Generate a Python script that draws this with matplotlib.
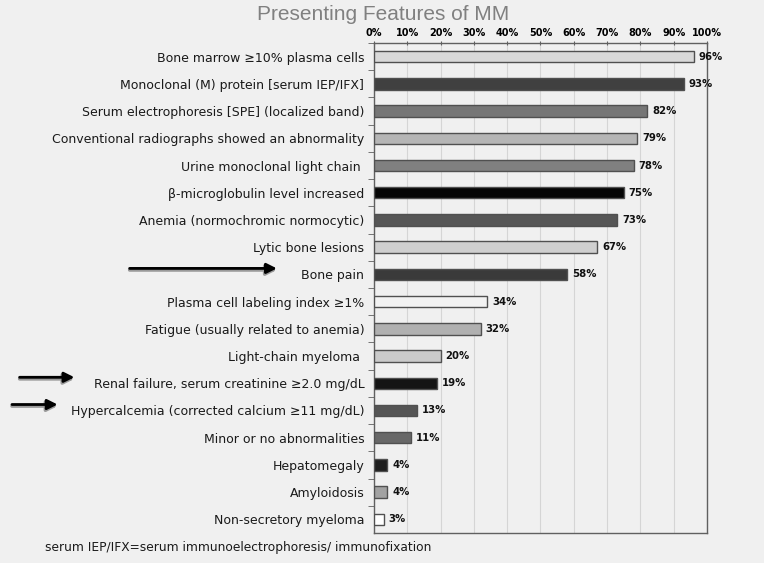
import matplotlib.pyplot as plt
from matplotlib.ticker import FixedLocator, FuncFormatter

# presenting features of multiple myeloma (% of patients)
features = ['Bone marrow ≥10% plasma cells',
            'Monoclonal (M) protein [serum IEP/IFX]',
            'Serum electrophoresis [SPE] (localized band)',
            'Conventional radiographs showed an abnormality',
            'Urine monoclonal light chain ',
            'β-microglobulin level increased',
            'Anemia (normochromic normocytic)',
            'Lytic bone lesions',
            'Bone pain',
            'Plasma cell labeling index ≥1%',
            'Fatigue (usually related to anemia)',
            'Light-chain myeloma ',
            'Renal failure, serum creatinine ≥2.0 mg/dL',
            'Hypercalcemia (corrected calcium ≥11 mg/dL)',
            'Minor or no abnormalities',
            'Hepatomegaly',
            'Amyloidosis',
            'Non-secretory myeloma']
percent = [96, 93, 82, 79, 78, 75, 73, 67, 58, 34, 32, 20, 19, 13, 11, 4, 4, 3]
bar_colors = ['#d9d9d9', '#404040', '#767676', '#b5b5b5', '#808080', '#050505',
              '#565656', '#cfcfcf', '#3a3a3a', '#f2f2f2', '#b0b0b0', '#cacaca',
              '#141414', '#555555', '#686868', '#1e1e1e', '#a2a2a2', '#ffffff']
arrowed = ['Bone pain', 'Renal failure, serum creatinine ≥2.0 mg/dL',
           'Hypercalcemia (corrected calcium ≥11 mg/dL)']
arrow_x = [(0.166, 0.366), (0.022, 0.101), (0.012, 0.079)]  # figure fraction

plt.rcParams['font.family'] = ['DejaVu Sans']
bg = '#f0f0f0'
fig = plt.figure(figsize=(7.64, 5.63), dpi=100, facecolor=bg)
ax = fig.add_axes([0.4895, 0.0533, 0.4359, 0.8703], facecolor=bg)

y = list(range(len(features)))
ax.barh(y, percent, height=0.42, color=bar_colors, edgecolor='#505050', linewidth=1, zorder=3)
for yi, p in zip(y, percent):
    ax.annotate(f'{p}%', (p, yi), xytext=(3.5, 0), textcoords='offset points',
                va='center', ha='left', fontsize=7.3, fontweight='bold', color='#111111')

ax.set_xlim(0, 100)
ax.set_ylim(len(features) - 0.5, -0.5)
ax.xaxis.tick_top()
ax.set_xticks(range(0, 101, 10))
ax.xaxis.set_major_formatter(FuncFormatter(lambda v, pos: f'{v:.0f}%'))
ax.tick_params(axis='x', labelsize=7, pad=2, length=3, direction='inout', color='#606060')
for lab in ax.get_xticklabels():
    lab.set_fontweight('bold')
ax.grid(True, axis='x', color='#d5d5d5', linewidth=0.8, zorder=0)

ax.set_yticks(y)
ax.set_yticklabels(features, fontsize=9, color='#1a1a1a')
ax.tick_params(axis='y', which='major', length=0, pad=7)
ax.yaxis.set_minor_locator(FixedLocator([i + 0.5 for i in y[:-1]] + [-0.5]))
ax.tick_params(axis='y', which='minor', length=4, color='#606060')

for s in ax.spines.values():
    s.set_color('#606060')
    s.set_linewidth(1)

for name, (x0, x1) in zip(arrowed, arrow_x):
    yi = features.index(name) - 0.22
    # grey shadow under each arrow
    ax.annotate('', xy=(x1, yi + 0.06), xytext=(x0, yi + 0.06),
                xycoords=('figure fraction', 'data'), textcoords=('figure fraction', 'data'),
                arrowprops=dict(arrowstyle='-|>', lw=2.5, color='#9a9a9a', mutation_scale=15),
                annotation_clip=False)
    ax.annotate('', xy=(x1, yi), xytext=(x0, yi),
                xycoords=('figure fraction', 'data'), textcoords=('figure fraction', 'data'),
                arrowprops=dict(arrowstyle='-|>', lw=2, color='black', mutation_scale=15),
                annotation_clip=False)

fig.text(0.501, 0.975, 'Presenting Features of MM', ha='center', va='center',
         fontsize=15, color='#808080', family='Liberation Sans')
fig.text(0.059, 0.028, 'serum IEP/IFX=serum immunoelectrophoresis/ immunofixation',
         ha='left', va='center', fontsize=8.8, color='#1a1a1a')

fig.savefig('out.png', dpi=100, facecolor=bg)
